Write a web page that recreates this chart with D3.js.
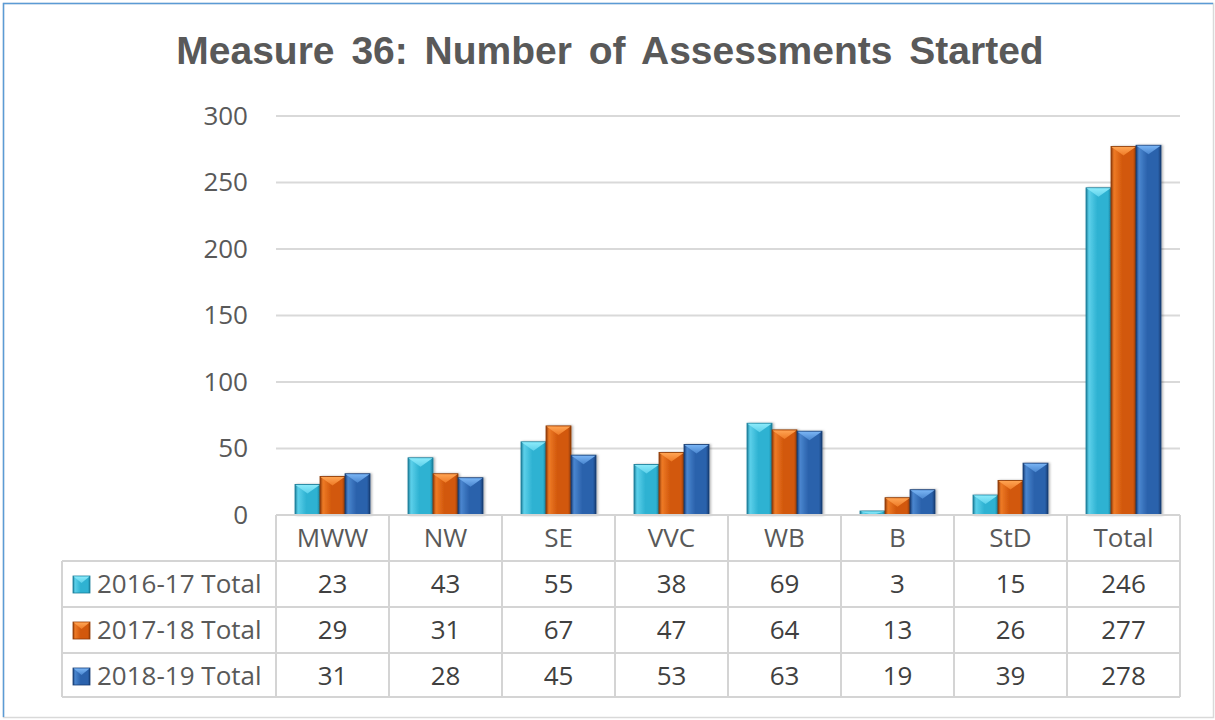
<!DOCTYPE html>
<html>
<head>
<meta charset="utf-8">
<script src="https://cdnjs.cloudflare.com/ajax/libs/d3/7.8.5/d3.min.js"></script>
<style>
  body { margin: 0; background: #fff; }
  svg { display: block; }
</style>
</head>
<body>
<div id="chart"></div>
<script>
var categories = ["MWW", "NW", "SE", "VVC", "WB", "B", "StD", "Total"];
var seriesNames = ["2016-17 Total", "2017-18 Total", "2018-19 Total"];
var values2016 = [23, 43, 55, 38, 69, 3, 15, 246];
var values2017 = [29, 31, 67, 47, 64, 13, 26, 277];
var values2018 = [31, 28, 45, 53, 63, 19, 39, 278];
var yTicks = [0, 50, 100, 150, 200, 250, 300];

var W = 1215, H = 720;
var plot = {left: 276, right: 1180, top: 116, bottom: 515};
var rowH = 46;
var legendLeft = 62;

// base, light, dark, highlight colours per series
var palette = [
  {base: "#2fb2d2", light: "#5cd0ea", dark: "#1a7d99", hi: "#8beafa"},
  {base: "#d2580c", light: "#ee7a26", dark: "#8e3a06", hi: "#ffa453"},
  {base: "#2b62ac", light: "#4a86cf", dark: "#173d73", hi: "#79b4f4"}
];

var series = [values2016, values2017, values2018].map(function(v, i) {
  return {name: seriesNames[i], values: v, col: palette[i], idx: i};
});

var svg = d3.select("#chart").append("svg")
  .attr("width", W).attr("height", H);

// outer frame
svg.append("rect").attr("x", 3.5).attr("y", 3.5).attr("width", W - 5).attr("height", H - 6)
  .attr("fill", "#fff").attr("stroke", "#d9d9d9").attr("stroke-width", 1.5);
svg.append("path").attr("d", "M3.5," + (H - 3) + "V3.5H" + (W - 2))
  .attr("fill", "none").attr("stroke", "#5b9bd5").attr("stroke-width", 1.5);

var defs = svg.append("defs");
series.forEach(function(s) {
  var g = defs.append("linearGradient").attr("id", "body" + s.idx)
    .attr("x1", 0).attr("x2", 1).attr("y1", 0).attr("y2", 0);
  g.append("stop").attr("offset", "0%").attr("stop-color", s.col.dark);
  g.append("stop").attr("offset", "12%").attr("stop-color", s.col.light);
  g.append("stop").attr("offset", "45%").attr("stop-color", s.col.base);
  g.append("stop").attr("offset", "88%").attr("stop-color", s.col.base);
  g.append("stop").attr("offset", "100%").attr("stop-color", s.col.dark);
  var t = defs.append("linearGradient").attr("id", "top" + s.idx)
    .attr("x1", 0).attr("x2", 0).attr("y1", 0).attr("y2", 1);
  t.append("stop").attr("offset", "0%").attr("stop-color", s.col.hi);
  t.append("stop").attr("offset", "100%").attr("stop-color", s.col.light);
});
var sh = defs.append("filter").attr("id", "shadow").attr("x", "-20%").attr("y", "-20%")
  .attr("width", "150%").attr("height", "150%");
sh.append("feDropShadow").attr("dx", 1.5).attr("dy", 0).attr("stdDeviation", 1.2)
  .attr("flood-color", "#000").attr("flood-opacity", 0.3);

// title
svg.append("text")
  .attr("x", 610).attr("y", 64)
  .attr("text-anchor", "middle")
  .attr("font-family", "Liberation Sans, Arial, sans-serif")
  .attr("font-weight", "bold")
  .attr("font-size", 39)
  .attr("word-spacing", 6)
  .attr("fill", "#595959")
  .text("Measure 36: Number of Assessments Started");

var x = d3.scaleBand().domain(categories).range([plot.left, plot.right]);
var x1 = d3.scaleBand().domain(d3.range(series.length)).range([0, x.bandwidth()])
  .paddingOuter(0.76).paddingInner(0);
var y = d3.scaleLinear().domain([0, 300]).range([plot.bottom, plot.top]);

// gridlines
svg.append("g").selectAll("line").data(yTicks.slice(1)).join("line")
  .attr("x1", plot.left).attr("x2", plot.right)
  .attr("y1", function(d) { return y(d); }).attr("y2", function(d) { return y(d); })
  .attr("stroke", "#d9d9d9").attr("stroke-width", 2);

// y axis labels
var yAxis = svg.append("g").attr("transform", "translate(" + (plot.left - 28) + ",0)")
  .call(d3.axisLeft(y).tickValues(yTicks).tickSize(0).tickPadding(0));
yAxis.select(".domain").remove();
yAxis.selectAll("text")
  .attr("font-family", "Open Sans, sans-serif")
  .attr("font-size", 26)
  .attr("fill", "#595959");

// bars
var bevel = 9;
var groups = svg.append("g").selectAll("g").data(series).join("g");
var bars = groups.selectAll("g").data(function(s) {
    return s.values.map(function(v, i) { return {s: s, cat: categories[i], v: v}; });
  }).join("g")
  .attr("filter", "url(#shadow)")
  .attr("transform", function(d) {
    return "translate(" + (x(d.cat) + x1(d.s.idx)) + "," + y(d.v) + ")";
  });
bars.append("rect")
  .attr("width", x1.bandwidth())
  .attr("height", function(d) { return y(0) - y(d.v); })
  .attr("fill", function(d) { return "url(#body" + d.s.idx + ")"; })
  .attr("stroke", function(d) { return d.s.col.dark; })
  .attr("stroke-width", 0.8);
bars.append("path")
  .attr("d", function(d) {
    var w = x1.bandwidth(), h = Math.min(bevel, y(0) - y(d.v));
    return "M0.5,0.5H" + (w - 0.5) + "L" + (w / 2) + "," + h + "Z";
  })
  .attr("fill", function(d) { return "url(#top" + d.s.idx + ")"; });

// data table
var tbl = svg.append("g")
  .attr("font-family", "Open Sans, sans-serif")
  .attr("font-size", 26)
  .attr("fill", "#404040");
var gridCol = "#d4d4d4";
var tableBottom = plot.bottom + rowH * 4 - 2;

// horizontal lines
[0, 1, 2, 3].forEach(function(r) {
  var yy = plot.bottom + rowH * r;
  tbl.append("line")
    .attr("x1", r === 0 ? plot.left : legendLeft).attr("x2", plot.right)
    .attr("y1", yy).attr("y2", yy)
    .attr("stroke", gridCol).attr("stroke-width", 2);
});
tbl.append("line").attr("x1", legendLeft).attr("x2", plot.right)
  .attr("y1", tableBottom).attr("y2", tableBottom)
  .attr("stroke", gridCol).attr("stroke-width", 2);
// vertical lines
tbl.append("line").attr("x1", legendLeft).attr("x2", legendLeft)
  .attr("y1", plot.bottom + rowH).attr("y2", tableBottom)
  .attr("stroke", gridCol).attr("stroke-width", 2);
categories.forEach(function(c) {
  tbl.append("line").attr("x1", x(c)).attr("x2", x(c))
    .attr("y1", plot.bottom).attr("y2", tableBottom)
    .attr("stroke", gridCol).attr("stroke-width", 2);
});
tbl.append("line").attr("x1", plot.right).attr("x2", plot.right)
  .attr("y1", plot.bottom).attr("y2", tableBottom)
  .attr("stroke", gridCol).attr("stroke-width", 2);

// header
tbl.selectAll("text.cat").data(categories).join("text")
  .attr("class", "cat")
  .attr("x", function(d) { return x(d) + x.bandwidth() / 2; })
  .attr("y", plot.bottom + rowH / 2 + 9)
  .attr("text-anchor", "middle")
  .attr("fill", "#595959")
  .text(function(d) { return d; });

// rows
series.forEach(function(s, r) {
  var cy = plot.bottom + rowH * (r + 1) + rowH / 2;
  var sw = tbl.append("g").attr("transform", "translate(73," + (cy - 8) + ")");
  sw.append("rect").attr("width", 17).attr("height", 17)
    .attr("fill", "url(#body" + s.idx + ")")
    .attr("stroke", s.col.dark).attr("stroke-width", 0.8);
  sw.append("path").attr("d", "M0.5,0.5H16.5L8.5,7Z").attr("fill", "url(#top" + s.idx + ")");
  tbl.append("text").attr("x", 97).attr("y", cy + 9).attr("fill", "#595959").text(s.name);
  tbl.selectAll("text.v" + r).data(s.values).join("text")
    .attr("class", "v" + r)
    .attr("x", function(d, i) { return x(categories[i]) + x.bandwidth() / 2; })
    .attr("y", cy + 9)
    .attr("text-anchor", "middle")
    .attr("fill", "#404040")
    .text(function(d) { return d; });
});
</script>
</body>
</html>
